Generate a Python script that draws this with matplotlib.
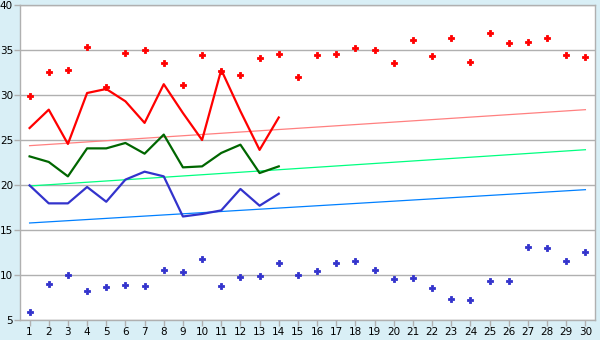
import matplotlib
matplotlib.use("Agg")
import matplotlib.pyplot as plt

days = list(range(1, 31))
line_days = list(range(1, 15))

# upper scatter (red) and lower scatter (blue)
red_points = [29.9, 32.55, 32.8, 35.33, 30.9, 34.67, 35.0, 33.56, 31.1, 34.44,
              32.7, 32.2, 34.1, 34.56, 32.0, 34.44, 34.56, 35.2, 35.0, 33.56,
              36.1, 34.33, 36.33, 33.67, 36.9, 35.78, 35.89, 36.33, 34.44, 34.22]
blue_points = [5.89, 9.0, 10.0, 8.22, 8.67, 8.89, 8.78, 10.56, 10.33, 11.78,
               8.78, 9.78, 9.89, 11.33, 10.0, 10.44, 11.33, 11.56, 10.56, 9.56,
               9.67, 8.56, 7.33, 7.22, 9.33, 9.33, 13.11, 13.0, 11.56, 12.56]

# lines for the first 14 days
red_line = [26.33, 28.37, 24.56, 30.22, 30.67, 29.3, 26.9, 31.2, 28.0, 25.0,
            32.8, 28.2, 23.9, 27.5]
green_line = [23.18, 22.56, 20.96, 24.07, 24.07, 24.67, 23.48, 25.6, 21.96, 22.07,
              23.56, 24.48, 21.33, 22.07]
blue_line = [19.96, 17.96, 17.96, 19.78, 18.14, 20.6, 21.48, 20.96, 16.5, 16.78,
             17.18, 19.56, 17.7, 19.03]

# trend lines: value at day 1 and day 30
trend_days = [1, 30]
trend_red = [24.37, 28.37]
trend_green = [19.89, 23.92]
trend_blue = [15.78, 19.48]

fig = plt.figure(figsize=(6, 3.4), dpi=100, facecolor="#d9eff6")
ax = fig.add_axes([20 / 600, 1 - 320 / 340, 575 / 600, 315 / 340])
ax.set_facecolor("white")

ax.set_xlim(0.5, 30.5)
ax.set_ylim(5, 40)
ax.set_yticks(range(5, 41, 5))
ax.set_xticks(days)
ax.yaxis.grid(True, color="#b0b0b0", linewidth=1)
ax.set_axisbelow(True)
for s in ax.spines.values():
    s.set_color("#b0b0b0")
    s.set_linewidth(1)
ax.tick_params(axis="both", colors="#b0b0b0", labelcolor="black", labelsize=7.5,
               length=4, width=1, pad=1)

ax.plot(trend_days, trend_red, color="#ff8080", linewidth=0.9)
ax.plot(trend_days, trend_green, color="#00ff80", linewidth=0.9)
ax.plot(trend_days, trend_blue, color="#0080ff", linewidth=0.9)

ax.plot(line_days, red_line, color="#ff0000", linewidth=1.6)
ax.plot(line_days, green_line, color="#006600", linewidth=1.6)
ax.plot(line_days, blue_line, color="#3333cc", linewidth=1.6)

ax.plot(days, red_points, linestyle="none", marker="P", markersize=4.5,
        color="#ff0000", markeredgewidth=0.6)
ax.plot(days, blue_points, linestyle="none", marker="P", markersize=4.5,
        color="#3333cc", markeredgewidth=0.6)

fig.savefig("out.png", dpi=100, facecolor=fig.get_facecolor())
